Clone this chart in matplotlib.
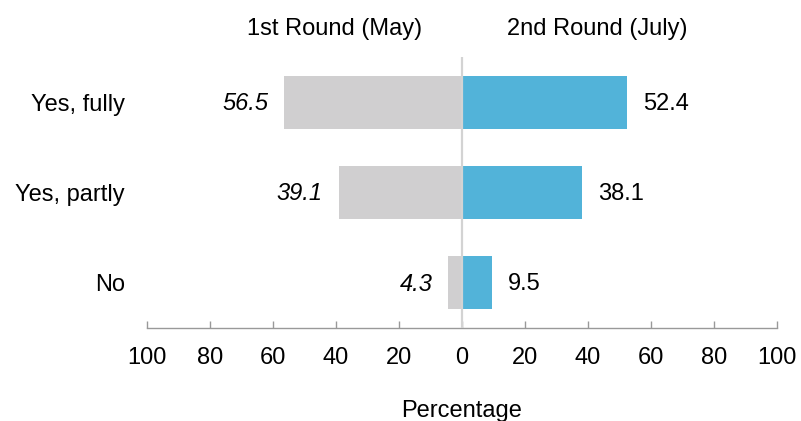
import numpy as np
import matplotlib.pyplot as plt

plt.rcParams['font.family'] = ['Liberation Sans', 'DejaVu Sans']

# data
categories = ['Yes, fully', 'Yes, partly', 'No']
round1 = [56.5, 39.1, 4.3]   # 1st Round (May)
round2 = [52.4, 38.1, 9.5]   # 2nd Round (July)
ticks = [-100, -80, -60, -40, -20, 0, 20, 40, 60, 80, 100]

FS = 17

fig = plt.figure(figsize=(8.01, 4.21), dpi=100)
ax = fig.add_axes([147/801, 1 - 328/421, 630/801, 271/421])

y = np.arange(len(categories))
h = 0.585
ax.barh(y, -np.array(round1), height=h, color='#D0CFD0')
ax.barh(y, round2, height=h, color='#52B3D9')

# zero line
ax.axvline(0, color='#D3D3D3', lw=1.6, zorder=3)

# value labels
for yi, v in zip(y, round1):
    ax.annotate(f'{v}', (-v, yi), xytext=(-11.5, -1), textcoords='offset points',
                ha='right', va='center', fontsize=FS, style='italic')
for yi, v in zip(y, round2):
    ax.annotate(f'{v}', (v, yi), xytext=(11.5, -1), textcoords='offset points',
                ha='left', va='center', fontsize=FS)

ax.set_xlim(-100, 100)
ax.set_ylim(len(categories) - 0.5, -0.5)
ax.set_yticks(y)
ax.set_yticklabels(categories, fontsize=FS)
ax.set_xticks(ticks)
ax.set_xticklabels([str(abs(t)) for t in ticks], fontsize=FS)
ax.tick_params(axis='y', length=0, pad=16)
ax.tick_params(axis='x', direction='in', length=5, width=1, color='#999999', pad=14)

for s in ['top', 'right', 'left']:
    ax.spines[s].set_visible(False)
ax.spines['bottom'].set_color('#999999')
ax.spines['bottom'].set_linewidth(1)

ax.set_xlabel('Percentage', fontsize=FS, labelpad=22)

# column headers
ax.text(-40.5, 1.0 + 17/271, '1st Round (May)', transform=ax.get_xaxis_transform(),
        ha='center', va='bottom', fontsize=FS)
ax.text(43, 1.0 + 17/271, '2nd Round (July)', transform=ax.get_xaxis_transform(),
        ha='center', va='bottom', fontsize=FS)

fig.savefig('out.png', dpi=100)
